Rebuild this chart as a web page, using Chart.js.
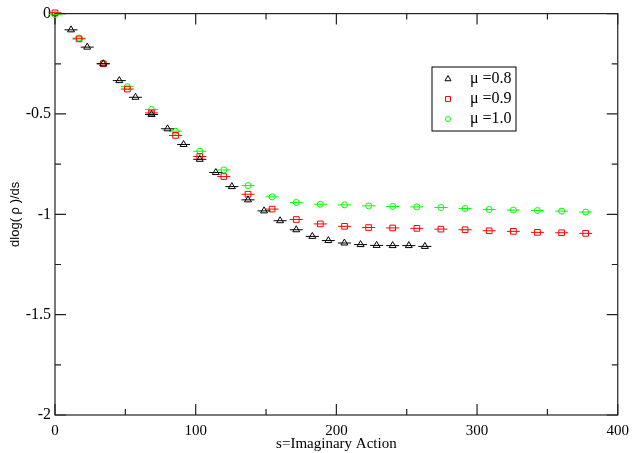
<!DOCTYPE html>
<html>
<head>
<meta charset="utf-8">
<script src="https://cdn.jsdelivr.net/npm/chart.js@4"></script>
<style>
  html, body { margin: 0; padding: 0; background: #fff; }
</style>
</head>
<body>
<canvas id="chart" width="636" height="453"></canvas>
<script>
// mu = 0.8 (black triangles)
const s08 = [11.4, 22.9, 34.3, 45.7, 57.2, 68.6, 80.0, 91.4, 102.9, 114.3, 125.7, 137.2,
  148.6, 160.0, 171.5, 182.9, 194.3, 205.7, 217.2, 228.6, 240.0, 251.5, 262.9];
const y08 = [-0.081, -0.167, -0.250, -0.334, -0.417, -0.503, -0.574, -0.652, -0.726, -0.792,
  -0.862, -0.928, -0.983, -1.032, -1.077, -1.110, -1.131, -1.143, -1.151, -1.155, -1.156,
  -1.156, -1.160];

// mu = 0.9 (red squares) and mu = 1.0 (green circles) share the same s values
const s09 = [0, 17.1, 34.3, 51.4, 68.6, 85.7, 102.9, 120.0, 137.2, 154.3, 171.5, 188.6,
  205.8, 222.9, 240.0, 257.2, 274.3, 291.5, 308.6, 325.8, 342.9, 360.1, 377.2];
const y09 = [0.004, -0.126, -0.250, -0.376, -0.495, -0.607, -0.712, -0.812, -0.900, -0.974,
  -1.026, -1.048, -1.060, -1.066, -1.068, -1.070, -1.074, -1.077, -1.082, -1.085, -1.090,
  -1.092, -1.095];
const y10 = [-0.005, -0.122, -0.248, -0.364, -0.478, -0.586, -0.686, -0.779, -0.857, -0.913,
  -0.941, -0.950, -0.953, -0.958, -0.961, -0.963, -0.966, -0.971, -0.976, -0.979, -0.981,
  -0.984, -0.989];

const legendLabels = ['\u03bc =0.8', '\u03bc =0.9', '\u03bc =1.0'];
const xTicksMinor = [50, 150, 250, 350];
const yTicksMinor = [-0.25, -0.75, -1.25, -1.75];

const toPts = (xs, ys) => xs.map((x, i) => ({ x: x, y: ys[i] }));

const serif = '"Liberation Serif", "DejaVu Serif", serif';

// marker dataset plus a short horizontal bar through each point
function series(xs, ys, color, style, r) {
  return [{
    label: 'bar',
    data: toPts(xs, ys),
    pointStyle: 'line',
    pointRadius: 6.5,
    borderColor: color,
    borderWidth: 1,
    showLine: false,
    clip: false
  }, {
    label: 'pt',
    data: toPts(xs, ys),
    pointStyle: style,
    pointRadius: r,
    borderColor: color,
    backgroundColor: 'rgba(0,0,0,0)',
    pointBorderWidth: 1,
    showLine: false,
    clip: false
  }];
}

const frameTicks = {
  id: 'frameTicks',
  beforeDatasetsDraw(chart) {
    const ctx = chart.ctx;
    const a = chart.chartArea;
    const xs = chart.scales.x, ys = chart.scales.y;
    ctx.save();
    ctx.strokeStyle = '#222';
    ctx.lineWidth = 1.2;
    ctx.strokeRect(a.left, a.top, a.right - a.left, a.bottom - a.top);
    ctx.beginPath();
    const tx = (v, len) => {
      const p = xs.getPixelForValue(v);
      ctx.moveTo(p, a.bottom); ctx.lineTo(p, a.bottom - len);
      ctx.moveTo(p, a.top); ctx.lineTo(p, a.top + len);
    };
    const ty = (v, len) => {
      const p = ys.getPixelForValue(v);
      ctx.moveTo(a.left, p); ctx.lineTo(a.left + len, p);
      ctx.moveTo(a.right, p); ctx.lineTo(a.right - len, p);
    };
    xs.ticks.forEach(t => tx(t.value, 11));
    xTicksMinor.forEach(v => tx(v, 6));
    ys.ticks.forEach(t => ty(t.value, 11));
    yTicksMinor.forEach(v => ty(v, 6));
    ctx.stroke();
    ctx.restore();
  },
  afterDraw(chart) {
    const ctx = chart.ctx;
    ctx.save();
    // legend box
    const bx = 432, by = 67, bw = 84, bh = 64;
    ctx.lineWidth = 1;
    ctx.strokeStyle = '#000';
    ctx.strokeRect(bx, by, bw, bh);
    const colors = ['#000', '#ff0000', '#00ff00'];
    const styles = ['triangle', 'rect', 'circle'];
    ctx.font = '16px ' + serif;
    ctx.textBaseline = 'middle';
    legendLabels.forEach((lab, i) => {
      const cy = by + 12 + i * 20;
      ctx.strokeStyle = colors[i];
      ctx.fillStyle = 'rgba(0,0,0,0)';
      Chart.helpers.drawPoint(ctx, { pointStyle: styles[i], radius: styles[i] === 'circle' ? 2.5 : 3.5, borderWidth: 1 }, 448, cy);
      ctx.fillStyle = '#000';
      ctx.fillText(lab, 470, cy);
    });
    ctx.restore();
  }
};

const ds = [].concat(
  series(s08, y08, '#000000', 'triangle', 4),
  series(s09, y09, '#ff0000', 'rect', 4),
  series(s09, y10, '#00ff00', 'circle', 3)
);

new Chart(document.getElementById('chart'), {
  type: 'scatter',
  data: { datasets: ds },
  options: {
    responsive: false,
    animation: false,
    devicePixelRatio: 1,
    layout: { padding: { top: 12, right: 15, left: 0, bottom: 0 } },
    plugins: { legend: { display: false }, tooltip: { enabled: false } },
    scales: {
      x: {
        min: 0, max: 400,
        grid: { display: false, drawTicks: false },
        border: { display: false },
        ticks: { stepSize: 100, color: '#000', padding: 7, font: { family: serif, size: 15 }, maxRotation: 0 },
        title: { display: true, text: 's=Imaginary Action', color: '#000', font: { family: serif, size: 15 }, padding: { top: 0, bottom: 0 } },
        afterFit(s) { s.height = 38; }
      },
      y: {
        min: -2, max: 0,
        grid: { display: false, drawTicks: false },
        border: { display: false },
        ticks: { stepSize: 0.5, color: '#000', padding: 4, font: { family: serif, size: 16 }, callback: v => String(v) },
        title: { display: true, text: 'dlog( \u03c1 )/ds', color: '#000', font: { family: '"Liberation Sans", Arial, sans-serif', size: 13 }, padding: { top: 8, bottom: 0 } },
        afterFit(s) { s.width = 55; }
      }
    }
  },
  plugins: [frameTicks]
});
</script>
</body>
</html>
